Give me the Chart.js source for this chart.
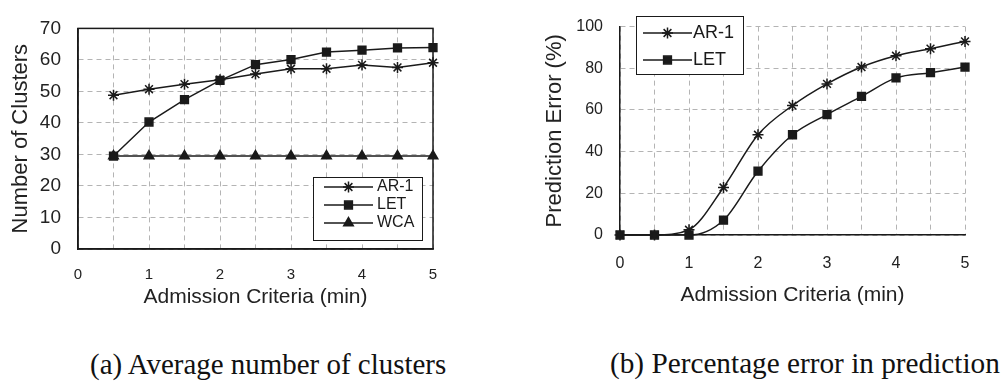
<!DOCTYPE html>
<html>
<head>
<meta charset="utf-8">
<script src="https://cdn.jsdelivr.net/npm/chart.js"></script>
<style>
  html, body { margin: 0; padding: 0; background: #fff; }
  body { width: 1003px; height: 388px; position: relative; overflow: hidden; }
  .box { position: absolute; top: 0; height: 325px; }
  #boxA { left: 0; width: 470px; }
  #boxB { left: 520px; width: 483px; }
  .cap { position: absolute; font-family: "Liberation Serif", "DejaVu Serif", serif; white-space: nowrap; line-height: 1; color: #111; }
</style>
</head>
<body>
<div class="box" id="boxA"><canvas id="chartA"></canvas></div>
<div class="box" id="boxB"><canvas id="chartB"></canvas></div>
<div class="cap" id="capA">(a) Average number of clusters</div>
<div class="cap" id="capB">(b) Percentage error in prediction</div>
<script>
// (a) average number of clusters
const clusterX = [0.5, 1, 1.5, 2, 2.5, 3, 3.5, 4, 4.5, 5];
const clusterAR1 = [48.8, 50.7, 52.3, 53.7, 55.5, 57.2, 57.2, 58.4, 57.6, 59.1];
const clusterLET = [29.5, 40.3, 47.4, 53.5, 58.5, 60.1, 62.5, 63.1, 63.8, 63.9];
const clusterWCA = [29.5, 29.5, 29.5, 29.5, 29.5, 29.5, 29.5, 29.5, 29.5, 29.5];

// (b) percentage error in prediction
const errorX = [0, 0.5, 1, 1.5, 2, 2.5, 3, 3.5, 4, 4.5, 5];
const errorAR1 = [0, 0, 2.5, 22.8, 48.1, 62.1, 72.5, 80.6, 86.0, 89.4, 92.9];
const errorLET = [0, 0, 0, 7.1, 30.6, 48.1, 57.8, 66.5, 75.4, 77.9, 80.6];

const xTickLabels = [0, 1, 2, 3, 4, 5];
const seriesNames = ["AR-1", "LET", "WCA"];

Chart.defaults.font.family = "'Liberation Sans', Arial, sans-serif";
Chart.defaults.color = "#222";

const ink = "#1a1a1a";

function pts(xs, ys) {
  return xs.map((x, i) => ({ x: x, y: ys[i] }));
}

function series(label, xs, ys, style, radius) {
  return {
    label: label,
    data: pts(xs, ys),
    borderColor: ink,
    backgroundColor: ink,
    borderWidth: 1.5,
    pointStyle: style,
    pointRadius: radius,
    pointBorderWidth: 1.5,
    pointBorderColor: ink,
    pointBackgroundColor: ink,
    clip: false
  };
}

// legend box drawn inside the plot, line + marker + name
const boxLegend = {
  id: "boxLegend",
  afterDraw(chart, args, o) {
    const ctx = chart.ctx;
    ctx.save();
    ctx.fillStyle = "#fff";
    ctx.fillRect(o.x, o.y, o.w, o.h);
    ctx.strokeStyle = ink;
    ctx.lineWidth = 1;
    ctx.strokeRect(o.x + 0.5, o.y + 0.5, o.w, o.h);
    chart.data.datasets.forEach((ds, i) => {
      const y = o.rows[i];
      ctx.strokeStyle = ds.borderColor;
      ctx.lineWidth = ds.borderWidth;
      ctx.beginPath();
      ctx.moveTo(o.x1, y);
      ctx.lineTo(o.x2, y);
      ctx.stroke();
      ctx.fillStyle = ds.pointBackgroundColor;
      ctx.strokeStyle = ds.pointBorderColor;
      ctx.lineWidth = ds.pointBorderWidth;
      Chart.helpers.drawPoint(ctx, { pointStyle: ds.pointStyle, radius: ds.pointRadius, borderWidth: ds.pointBorderWidth, rotation: 0 }, (o.x1 + o.x2) / 2, y);
      ctx.fillStyle = ink;
      ctx.font = o.font;
      ctx.textBaseline = "middle";
      ctx.textAlign = "left";
      ctx.fillText(ds.label, o.textX, y);
    });
    ctx.restore();
  }
};

// full frame round the plot area (chart a only)
const plotFrame = {
  id: "plotFrame",
  beforeDatasetsDraw(chart, args, o) {
    if (!o.show) return;
    const a = chart.chartArea;
    const ctx = chart.ctx;
    ctx.save();
    ctx.strokeStyle = ink;
    ctx.lineWidth = 1.5;
    ctx.strokeRect(a.left, a.top, a.right - a.left, a.bottom - a.top);
    ctx.restore();
  }
};

function xAxis(cfg) {
  return {
    type: "linear",
    min: 0,
    max: 5,
    afterFit(s) { s.height = cfg.height; },
    ticks: {
      stepSize: 0.5,
      autoSkip: false,
      maxRotation: 0,
      padding: cfg.tickPad,
      font: { size: cfg.tickSize },
      color: "#222",
      callback: v => xTickLabels.includes(v) ? String(v) : ""
    },
    grid: { color: "#b4b4b4", lineWidth: 1, drawTicks: false },
    border: { display: true, color: ink, width: 1.5, dash: [5, 4] },
    title: {
      display: true,
      text: "Admission Criteria (min)",
      font: { size: 21 },
      color: "#222",
      padding: { top: 0, bottom: cfg.titlePad }
    }
  };
}

function yAxis(cfg) {
  return {
    type: "linear",
    min: 0,
    max: cfg.max,
    afterFit(s) { s.width = cfg.width; },
    ticks: {
      stepSize: cfg.step,
      padding: cfg.tickPad,
      font: { size: cfg.tickSize },
      color: "#222"
    },
    grid: { color: "#b4b4b4", lineWidth: 1, drawTicks: false },
    border: { display: true, color: ink, width: 1.5, dash: [5, 4] },
    title: {
      display: true,
      text: cfg.title,
      font: { size: 22 },
      color: "#222",
      padding: { top: cfg.titlePad, bottom: 0 }
    }
  };
}

new Chart(document.getElementById("chartA"), {
  type: "line",
  data: {
    datasets: [
      series(seriesNames[0], clusterX, clusterAR1, "star", 5.5),
      series(seriesNames[1], clusterX, clusterLET, "rect", 5.5),
      series(seriesNames[2], clusterX, clusterWCA, "triangle", 5.5)
    ]
  },
  options: {
    responsive: true,
    maintainAspectRatio: false,
    animation: false,
    layout: { padding: { top: 17, right: 37, left: 0, bottom: 0 } },
    scales: {
      x: xAxis({ height: 76, tickPad: 17, tickSize: 15, titlePad: 15 }),
      y: yAxis({ max: 70, step: 10, width: 78, tickPad: 17, tickSize: 19, title: "Number of Clusters", titlePad: 8 })
    },
    plugins: {
      legend: { display: false },
      tooltip: { enabled: false },
      plotFrame: { show: true },
      boxLegend: { x: 313, y: 177, w: 109, h: 63, rows: [187, 205, 223], x1: 324, x2: 373, textX: 377, font: "16px 'Liberation Sans', Arial, sans-serif" }
    }
  },
  plugins: [plotFrame, boxLegend]
});

new Chart(document.getElementById("chartB"), {
  type: "line",
  data: {
    datasets: [
      Object.assign(series(seriesNames[0], errorX, errorAR1, "star", 5.5), { cubicInterpolationMode: "monotone" }),
      Object.assign(series(seriesNames[1], errorX, errorLET, "rect", 5.5), { cubicInterpolationMode: "monotone" })
    ]
  },
  options: {
    responsive: true,
    maintainAspectRatio: false,
    animation: false,
    layout: { padding: { top: 8, right: 38, left: 0, bottom: 0 } },
    scales: {
      x: xAxis({ height: 90, tickPad: 19, tickSize: 16, titlePad: 17 }),
      y: yAxis({ max: 100, step: 20, width: 100, tickPad: 17, tickSize: 16, title: "Prediction Error (%)", titlePad: 22 })
    },
    plugins: {
      legend: { display: false },
      tooltip: { enabled: false },
      plotFrame: { show: false },
      boxLegend: { x: 116, y: 16, w: 107, h: 58, rows: [33, 60], x1: 123, x2: 172, textX: 173, font: "18px 'Liberation Sans', Arial, sans-serif" }
    }
  },
  plugins: [plotFrame, boxLegend]
});

// captions: fit serif text to the width it takes in the figure
function placeCaption(id, left, width, baseline) {
  const el = document.getElementById(id);
  const c = document.createElement("canvas").getContext("2d");
  c.font = "100px 'Liberation Serif'";
  const w = c.measureText(el.textContent).width;
  const size = 100 * width / w;
  el.style.fontSize = size + "px";
  el.style.left = left + "px";
  el.style.top = (baseline - 0.8375 * size) + "px";
}
placeCaption("capA", 90, 358, 374);
placeCaption("capB", 610, 390, 374);
</script>
</body>
</html>
